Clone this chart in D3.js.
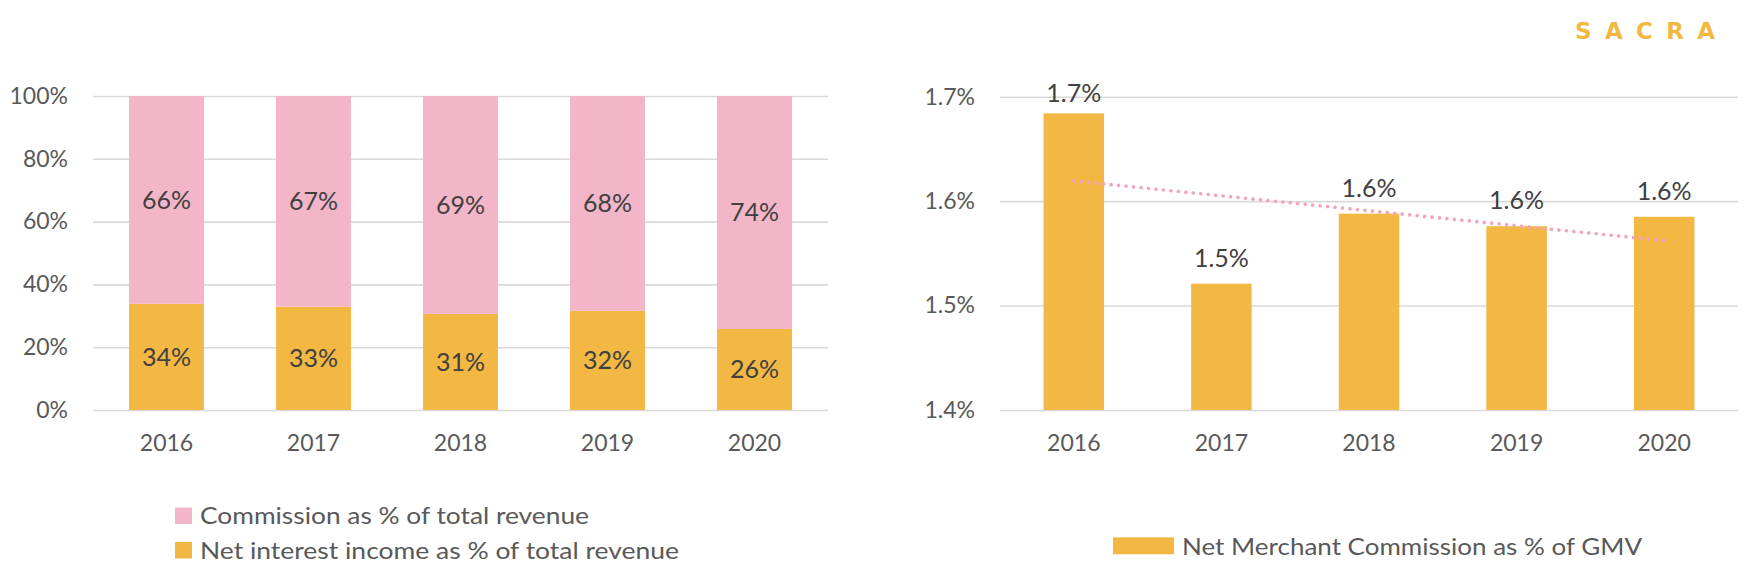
<!DOCTYPE html>
<html>
<head>
<meta charset="utf-8">
<script src="https://cdn.jsdelivr.net/npm/d3@7"></script>
<style>
  html, body { margin: 0; padding: 0; background: #fff; }
  svg { display: block; font-family: Lato, "Open Sans", sans-serif; }
</style>
</head>
<body>
<svg id="chart" width="1746" height="578"></svg>
<script>
// ---- data ----
const years = ["2016", "2017", "2018", "2019", "2020"];
const commissionShare = [0.662, 0.671, 0.694, 0.684, 0.742];
const netInterestShare = [0.338, 0.329, 0.306, 0.316, 0.258];
const leftTicks = [0, 0.2, 0.4, 0.6, 0.8, 1.0];

const merchantCommission = [1.684, 1.521, 1.588, 1.576, 1.585];
const rightTicks = [1.4, 1.5, 1.6, 1.7];

const legendLeft = ["Commission as % of total revenue", "Net interest income as % of total revenue"];
const legendRight = ["Net Merchant Commission as % of GMV"];
const brand = "SACRA";

// ---- style ----
const PINK = "#F3B6C9";
const YELLOW = "#F3B843";
const GRID = "#D9D9D9";
const AXIS_TXT = "#595959";
const LABEL_TXT = "#404040";
const AXIS_FS = "23px";
const LABEL_FS = "25px";

const svg = d3.select("#chart");

function styleAxisText(g) {
  g.selectAll(".tick text").attr("fill", AXIS_TXT).style("font-size", AXIS_FS).style("font-family", "Lato");
}

// ================= LEFT CHART =================
const xL = d3.scaleBand().domain(years).range([93, 828]).paddingInner(0.49).paddingOuter(0.245);
const yL = d3.scaleLinear().domain([0, 1]).range([410, 96]);

const gyL = svg.append("g").attr("transform", "translate(93,0)")
  .call(d3.axisLeft(yL).tickValues(leftTicks).tickFormat(d3.format(".0%"))
    .tickSize(-(828 - 93)).tickPadding(25));
gyL.select(".domain").remove();
gyL.selectAll(".tick line").attr("stroke", GRID).attr("stroke-width", 1.6);
styleAxisText(gyL);

const gxL = svg.append("g").attr("transform", "translate(0,410)")
  .call(d3.axisBottom(xL).tickSize(0).tickPadding(25));
gxL.select(".domain").remove();
styleAxisText(gxL);

// stacked bars
const stackData = years.map((y, i) => ({ year: y, nii: netInterestShare[i], com: commissionShare[i] }));
const stack = d3.stack().keys(["nii", "com"])(stackData);
const colorsL = { nii: YELLOW, com: PINK };

stack.forEach(layer => {
  const g = svg.append("g");
  g.selectAll("rect").data(layer).join("rect")
    .attr("x", d => xL(d.data.year))
    .attr("width", xL.bandwidth())
    .attr("y", d => yL(d[1]))
    .attr("height", d => yL(d[0]) - yL(d[1]))
    .attr("fill", colorsL[layer.key]);
  g.selectAll("text").data(layer).join("text")
    .attr("x", d => xL(d.data.year) + xL.bandwidth() / 2)
    .attr("y", d => (yL(d[0]) + yL(d[1])) / 2)
    .attr("dy", "0.36em")
    .attr("text-anchor", "middle")
    .attr("fill", LABEL_TXT)
    .style("font-size", LABEL_FS)
    .text(d => d3.format(".0%")(d[1] - d[0]));
});

// ================= RIGHT CHART =================
const xR = d3.scaleBand().domain(years).range([1000, 1738]).paddingInner(0.59).paddingOuter(0.295);
const yR = d3.scaleLinear().domain([1.4, 1.7]).range([410, 96.7]);

const gyR = svg.append("g").attr("transform", "translate(1000,0)")
  .call(d3.axisLeft(yR).tickValues(rightTicks).tickFormat(d => d.toFixed(1) + "%")
    .tickSize(-(1738 - 1000)).tickPadding(25));
gyR.select(".domain").remove();
gyR.selectAll(".tick line").attr("stroke", GRID).attr("stroke-width", 1.6);
styleAxisText(gyR);

const gxR = svg.append("g").attr("transform", "translate(0,410)")
  .call(d3.axisBottom(xR).tickSize(0).tickPadding(25));
gxR.select(".domain").remove();
styleAxisText(gxR);

const barData = years.map((y, i) => ({ year: y, v: merchantCommission[i] }));
svg.append("g").selectAll("rect").data(barData).join("rect")
  .attr("x", d => xR(d.year))
  .attr("width", xR.bandwidth())
  .attr("y", d => yR(d.v))
  .attr("height", d => yR(1.4) - yR(d.v))
  .attr("fill", YELLOW);

// linear trendline (least squares on the series)
const n = merchantCommission.length;
const xs = d3.range(n);
const mx = d3.mean(xs), my = d3.mean(merchantCommission);
const slope = d3.sum(xs, i => (i - mx) * (merchantCommission[i] - my)) / d3.sum(xs, i => (i - mx) * (i - mx));
const icpt = my - slope * mx;
const trend = [0, n - 1].map(i => ({ year: years[i], v: icpt + slope * i }));
svg.append("path")
  .attr("d", d3.line().x(d => xR(d.year) + xR.bandwidth() / 2).y(d => yR(d.v))(trend))
  .attr("fill", "none")
  .attr("stroke", "#F2A5BD")
  .attr("stroke-width", 3.6)
  .attr("stroke-linecap", "round")
  .attr("stroke-dasharray", "0.1,7.4");

svg.append("g").selectAll("text").data(barData).join("text")
  .attr("x", d => xR(d.year) + xR.bandwidth() / 2)
  .attr("y", d => Math.max(yR(d.v) - 17, yR(1.7) + 5))
  .attr("text-anchor", "middle")
  .attr("fill", LABEL_TXT)
  .style("font-size", LABEL_FS)
  .text(d => d.v.toFixed(1) + "%");

// ================= LEGENDS =================
const legL = svg.append("g");
const legLColors = [PINK, YELLOW];
const legLCenters = [515.5, 550];
const legLLen = [389, 479];
legendLeft.forEach((t, i) => {
  legL.append("rect").attr("x", 175).attr("y", legLCenters[i] - 8).attr("width", 17).attr("height", 16.5).attr("fill", legLColors[i]);
  legL.append("text").attr("x", 200).attr("y", legLCenters[i]).attr("dy", "0.36em")
    .attr("fill", AXIS_TXT).style("font-size", "24px")
    .attr("textLength", legLLen[i]).attr("lengthAdjust", "spacingAndGlyphs")
    .text(t);
});

const legR = svg.append("g");
legendRight.forEach((t, i) => {
  legR.append("rect").attr("x", 1113).attr("y", 537.3).attr("width", 61).attr("height", 17).attr("fill", YELLOW);
  legR.append("text").attr("x", 1182).attr("y", 546).attr("dy", "0.36em")
    .attr("fill", AXIS_TXT).style("font-size", "24px")
    .attr("textLength", 460).attr("lengthAdjust", "spacingAndGlyphs")
    .text(t);
});

// ================= BRAND =================
svg.append("text")
  .attr("x", 1575).attr("y", 39.3)
  .attr("fill", YELLOW)
  .style("font-family", "'DejaVu Sans', sans-serif")
  .style("font-size", "23px").style("font-weight", "bold")
  .attr("textLength", 140).attr("lengthAdjust", "spacing")
  .text(brand);
</script>
</body>
</html>
